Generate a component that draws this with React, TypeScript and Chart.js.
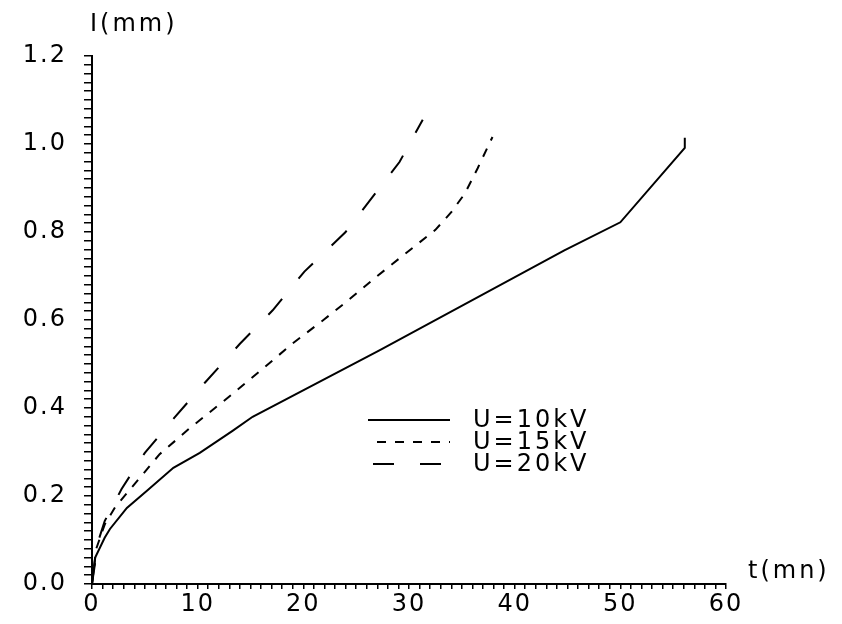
import React, { useEffect, useRef } from 'react';
import { Chart, registerables } from 'chart.js';

Chart.register(...registerables);

// ---- data ----
const t10 = [0, 0.3, 1.2, 1.7, 3.3, 5.2, 7.7, 10.2, 13.3, 15.2, 27.2, 44.7, 50, 56.1, 56.1];
const i10 = [0, 0.06, 0.105, 0.125, 0.173, 0.212, 0.264, 0.298, 0.348, 0.38, 0.531, 0.758, 0.822, 0.991, 1.014];

const t15 = [0, 0.4, 1.2, 2.2, 4.3, 6.4, 9.2, 13.2, 16.2, 19, 21.9, 24, 27, 30.4, 32.5, 34, 35.3, 36.5, 37.9];
const i15 = [0, 0.08, 0.135, 0.175, 0.235, 0.295, 0.353, 0.43, 0.49, 0.547, 0.6, 0.64, 0.7, 0.765, 0.805, 0.845, 0.888, 0.945, 1.016];

const t20 = [0, 0.6, 1.2, 2.8, 5.0, 7.8, 10.7, 14, 17.1, 20.1, 24, 29.1, 30.4, 31.3];
const i20 = [0, 0.098, 0.143, 0.216, 0.298, 0.378, 0.458, 0.546, 0.622, 0.71, 0.8, 0.959, 1.016, 1.055];

const seriesLabels = ['U=10kV', 'U=15kV', 'U=20kV'];
const xTickLabels = ['0', '10', '20', '30', '40', '50', '60'];
const yTickLabels = ['0.0', '0.2', '0.4', '0.6', '0.8', '1.0', '1.2'];
const xTitle = 't(mn)';
const yTitle = 'I(mm)';

const FONT = '"DejaVu Sans", "Liberation Sans", sans-serif';

const toPoints = (ts: number[], vs: number[]) => ts.map((t, k) => ({ x: t, y: vs[k] }));

const legendStarts = [368, 377, 373];

const overlay = {
  id: 'overlay',
  beforeDraw(chart: any) {
    (chart.ctx as any).letterSpacing = '2px';
  },
  afterDraw(chart: any) {
    const ctx = chart.ctx as CanvasRenderingContext2D;
    ctx.save();
    (ctx as any).letterSpacing = '3px';
    ctx.font = `24px ${FONT}`;
    ctx.fillStyle = '#000';
    ctx.strokeStyle = '#000';
    ctx.textBaseline = 'middle';
    ctx.textAlign = 'left';
    const area = chart.chartArea;
    ctx.fillText(yTitle, area.left - 2, 25);
    ctx.fillText(xTitle, area.right + 22, 572);
    chart.data.datasets.forEach((ds: any, i: number) => {
      const y = 420 + i * 22;
      ctx.beginPath();
      ctx.setLineDash(ds.borderDash || []);
      ctx.lineWidth = ds.borderWidth;
      ctx.moveTo(legendStarts[i], y);
      ctx.lineTo(450, y);
      ctx.stroke();
      ctx.setLineDash([]);
      ctx.fillText(ds.label, 473, y + 1);
    });
    ctx.restore();
    (ctx as any).letterSpacing = '0px';
  },
};

export default function App() {
  const ref = useRef<HTMLCanvasElement | null>(null);

  useEffect(() => {
    if (!ref.current) return;
    const chart = new Chart(ref.current, {
      type: 'line',
      data: {
        datasets: [
          {
            label: seriesLabels[0],
            data: toPoints(t10, i10),
            borderColor: '#000',
            borderWidth: 2,
            pointRadius: 0,
            tension: 0,
            fill: false,
          },
          {
            label: seriesLabels[1],
            data: toPoints(t15, i15),
            borderColor: '#000',
            borderWidth: 2,
            borderDash: [9, 9],
            pointRadius: 0,
            tension: 0,
            fill: false,
          },
          {
            label: seriesLabels[2],
            data: toPoints(t20, i20),
            borderColor: '#000',
            borderWidth: 2,
            borderDash: [21, 26],
            pointRadius: 0,
            tension: 0,
            fill: false,
          },
        ],
      },
      options: {
        animation: false,
        responsive: false,
        layout: { padding: { left: 0, right: 116, top: 56, bottom: 0 } },
        plugins: { legend: { display: false }, tooltip: { enabled: false } },
        scales: {
          x: {
            type: 'linear',
            min: 0,
            max: 60,
            afterFit: (s: any) => {
              s.height = 40;
            },
            border: { display: true, color: '#000', width: 2 },
            grid: { display: true, drawOnChartArea: false, drawTicks: true, tickLength: 5, color: '#000', lineWidth: 1.5 },
            ticks: {
              stepSize: 1,
              autoSkip: false,
              maxRotation: 0,
              minRotation: 0,
              padding: 1,
              color: '#000',
              font: { family: FONT, size: 24 },
              callback: (v: any) => {
                const n = Number(v);
                const k = Math.round(n / 10);
                return Math.abs(n - k * 10) < 1e-6 ? xTickLabels[k] : '';
              },
            },
          },
          y: {
            type: 'linear',
            min: 0,
            max: 1.2,
            afterFit: (s: any) => {
              s.width = 92;
            },
            border: { display: true, color: '#000', width: 2 },
            grid: { display: true, drawOnChartArea: false, drawTicks: true, tickLength: 8, color: '#000', lineWidth: 1.5 },
            ticks: {
              stepSize: 0.02,
              autoSkip: false,
              padding: 17,
              color: '#000',
              font: { family: FONT, size: 24 },
              callback: (v: any) => {
                const n = Number(v);
                const k = Math.round(n / 0.2);
                return Math.abs(n - k * 0.2) < 1e-6 ? yTickLabels[k] : '';
              },
            },
          },
        },
      },
      plugins: [overlay],
    } as any);
    return () => chart.destroy();
  }, []);

  return (
    <div style={{ position: 'fixed', left: 0, top: 0, width: 842, height: 624, background: '#fff' }}>
      <canvas ref={ref} width={842} height={624} style={{ display: 'block' }} />
    </div>
  );
}
